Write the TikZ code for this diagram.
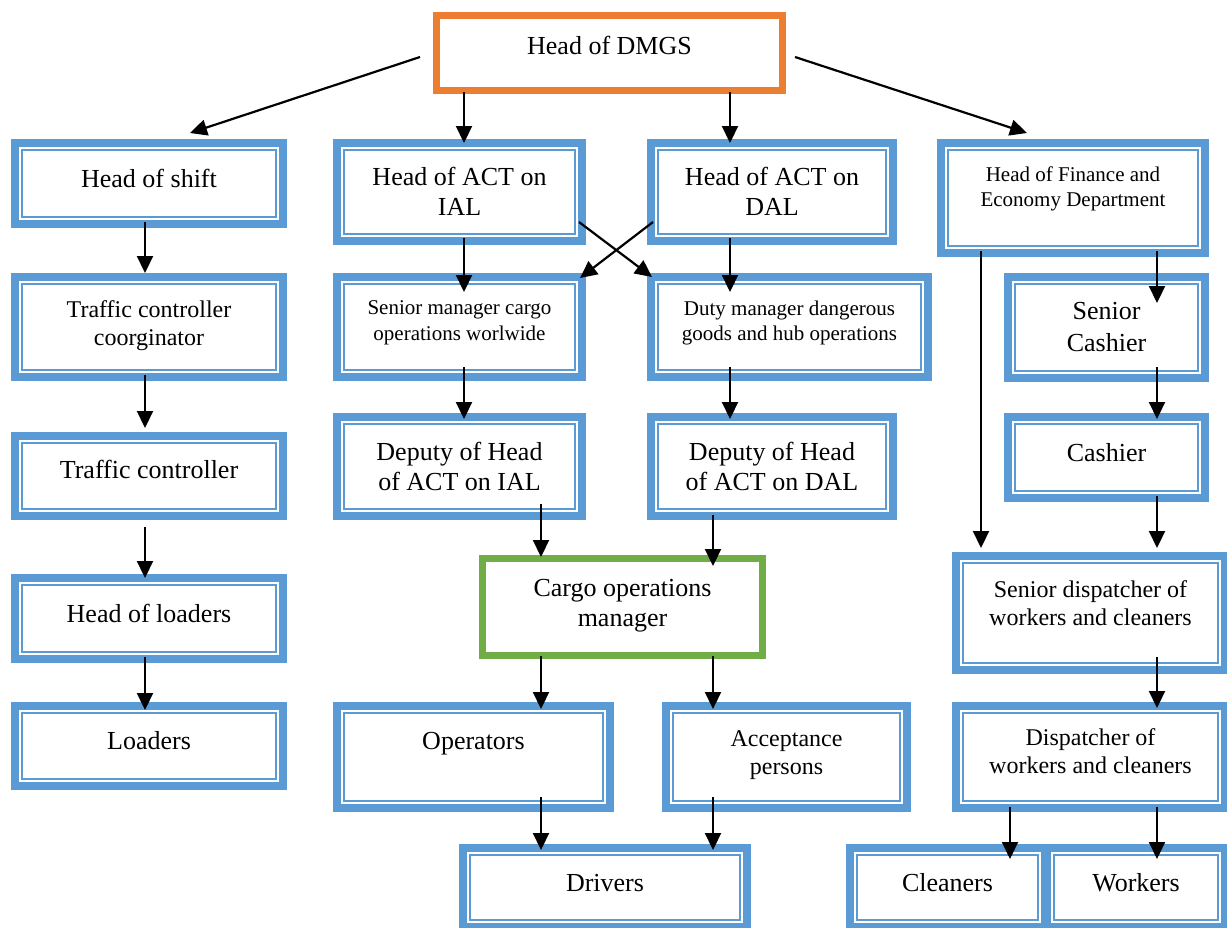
\documentclass[tikz,border=0pt]{standalone}
\usepackage{fontspec}
\setmainfont{Liberation Serif}
\usetikzlibrary{arrows.meta}
\definecolor{bluBordo}{HTML}{5B9BD5}
\definecolor{aranBordo}{HTML}{ED7D31}
\definecolor{verdeBordo}{HTML}{70AD47}

\begin{document}
\begin{tikzpicture}[x=1pt,y=-1pt,
  riquadro/.style={draw=bluBordo,line width=8pt,fill=white,outer sep=0pt,inner sep=0pt,
    anchor=north west,align=center,
    path picture={\draw[bluBordo,line width=2pt]
      ([xshift=7pt,yshift=-7pt]path picture bounding box.north west) rectangle
      ([xshift=-7pt,yshift=7pt]path picture bounding box.south east);}},
  cornice/.style={draw=#1,line width=7pt,fill=white,outer sep=0pt,inner sep=0pt,
    anchor=north west,align=center},
  grande/.style={font=\fontsize{26}{30}\selectfont},
  medio/.style={font=\fontsize{24}{28}\selectfont},
  piccolo/.style={font=\fontsize{21}{25.5}\selectfont},
  alza/.style={text depth=#1},
  freccia/.style={-{Triangle[length=17pt,width=16pt]},line width=2.2pt}]
  \useasboundingbox (0,0) rectangle (1227,927);
  % Vertice dell'organigramma.
  \node[cornice=aranBordo,grande,alza=15.7,minimum width=346,minimum height=75] (dmgs) at (436.5,15.5) {Head of DMGS};
  % Prima colonna: turno e caricatori.
  \node[riquadro,grande,alza=11.3,minimum width=268,minimum height=81] (turno) at (15,143) {Head of shift};
  \node[riquadro,medio,alza=8.3,minimum width=268,minimum height=100] (coord) at (15,277) {Traffic controller\\coorginator};
  \node[riquadro,grande,alza=13.7,minimum width=268,minimum height=80] (traffico) at (15,436) {Traffic controller};
  \node[riquadro,grande,alza=11.3,minimum width=268,minimum height=81] (capoCaric) at (15,578) {Head of loaders};
  \node[riquadro,grande,alza=11.1,minimum width=268,minimum height=80] (caricatori) at (15,706) {Loaders};
  % Colonne centrali: IAL e DAL.
  \node[riquadro,grande,alza=0.7,minimum width=245,minimum height=98] (actIAL) at (337,143) {Head of ACT on\\IAL};
  \node[riquadro,piccolo,alza=12.6,minimum width=245,minimum height=100] (smIAL) at (337,277) {Senior manager cargo\\operations worlwide};
  \node[riquadro,grande,alza=0,minimum width=245,minimum height=99] (vIAL) at (337,417) {Deputy of Head\\of ACT on IAL};
  \node[riquadro,grande,alza=0.7,minimum width=242,minimum height=98] (actDAL) at (651,143) {Head of ACT on\\DAL};
  \node[riquadro,piccolo,alza=12.6,minimum width=277,minimum height=100] (dmDAL) at (651,277) {Duty manager dangerous\\goods and hub operations};
  \node[riquadro,grande,alza=0,minimum width=242,minimum height=99] (vDAL) at (651,417) {Deputy of Head\\of ACT on DAL};
  \node[cornice=verdeBordo,grande,alza=8.3,minimum width=280,minimum height=97] (merci) at (482.5,558.5) {Cargo operations\\manager};
  \node[riquadro,grande,alza=31.7,minimum width=273,minimum height=102] (operatori) at (337,706) {Operators};
  \node[riquadro,medio,alza=8.9,minimum width=241,minimum height=102] (accett) at (666,706) {Acceptance\\persons};
  \node[riquadro,grande,alza=9.3,minimum width=284,minimum height=79] (autisti) at (463,848) {Drivers};
  % Ultima colonna: finanza e dispatcher.
  \node[riquadro,piccolo,alza=22.6,minimum width=264,minimum height=110] (finanza) at (941,143) {Head of Finance and\\Economy Department};
  \node[riquadro,font=\fontsize{26}{31.5}\selectfont,alza=1.1,minimum width=197,minimum height=101] (cassSr) at (1008,277) {Senior\\Cashier};
  \node[riquadro,grande,alza=10.7,minimum width=197,minimum height=81] (cass) at (1008,417) {Cashier};
  \node[riquadro,medio,alza=20.7,minimum width=269,minimum height=114] (dispSr) at (956,556) {Senior dispatcher of\\workers and cleaners};
  \node[riquadro,medio,alza=11.9,minimum width=269,minimum height=102] (disp) at (956,706) {Dispatcher of\\workers and cleaners};
  \node[riquadro,grande,alza=9.3,minimum width=195,minimum height=79] (pulitori) at (850,848) {Cleaners};
  \node[riquadro,grande,alza=9.3,minimum width=178,minimum height=79] (operai) at (1047,848) {Workers};
  % Frecce dal vertice.
  \draw[freccia] ([xshift=-16.5,yshift=-4]dmgs.west) -- ([xshift=41,yshift=10]turno.north);
  \draw[freccia] ([xshift=-145.5,yshift=-1.5]dmgs.south) -- ([xshift=4.5]actIAL.north);
  \draw[freccia] ([xshift=120.5,yshift=-1.5]dmgs.south) -- ([xshift=-42]actDAL.north);
  \draw[freccia] ([xshift=12.5,yshift=-4]dmgs.east) -- ([xshift=-46,yshift=10]finanza.north);
  % Prima colonna.
  \draw[freccia] ([xshift=-4,yshift=2]turno.south) -- ([xshift=-4,yshift=4]coord.north);
  \draw[freccia] ([xshift=-4,yshift=2]coord.south) -- ([xshift=-4,yshift=8]traffico.north);
  \draw[freccia] ([xshift=-4,yshift=-11]traffico.south) -- ([xshift=-4]capoCaric.north);
  \draw[freccia] ([xshift=-4,yshift=2]capoCaric.south) -- ([xshift=-4,yshift=-4]caricatori.north);
  % Colonne centrali, con l'incrocio.
  \draw[freccia] ([xshift=4.5,yshift=3]actIAL.south) -- ([xshift=4.5,yshift=-15]smIAL.north);
  \draw[freccia] ([xshift=-42,yshift=3]actDAL.south) -- ([xshift=-59.5,yshift=-15]dmDAL.north);
  \draw[freccia] ([xshift=-3,yshift=19]actIAL.south east) -- ([xshift=1]dmDAL.north west);
  \draw[freccia] ([xshift=2,yshift=19]actDAL.south west) -- ([xshift=-2,yshift=-1]smIAL.north east);
  \draw[freccia] ([xshift=4.5,yshift=10]smIAL.south) -- ([xshift=4.5,yshift=-2]vIAL.north);
  \draw[freccia] ([xshift=-59.5,yshift=10]dmDAL.south) -- ([xshift=-42,yshift=-2]vDAL.north);
  \draw[freccia] ([xshift=81.5,yshift=12]vIAL.south) -- ([xshift=-81.5,yshift=1.5]merci.north);
  \draw[freccia] ([xshift=-59,yshift=1]vDAL.south) -- ([xshift=90.5,yshift=-7.5]merci.north);
  \draw[freccia] ([xshift=-81.5,yshift=-0.5]merci.south) -- ([xshift=67.5,yshift=-3]operatori.north);
  \draw[freccia] ([xshift=90.5,yshift=-0.5]merci.south) -- ([xshift=-73.5,yshift=-3]accett.north);
  \draw[freccia] ([xshift=67.5,yshift=11]operatori.south) -- ([xshift=-64,yshift=-2]autisti.north);
  \draw[freccia] ([xshift=-73.5,yshift=11]accett.south) -- ([xshift=108,yshift=-2]autisti.north);
  % Ultima colonna.
  \draw[freccia] ([xshift=84,yshift=2]finanza.south) -- ([xshift=50.5,yshift=-26]cassSr.north);
  \draw[freccia] ([xshift=-92,yshift=2]finanza.south) -- ([xshift=-109.5,yshift=8]dispSr.north);
  \draw[freccia] ([xshift=50.5,yshift=11]cassSr.south) -- ([xshift=50.5,yshift=-2]cass.north);
  \draw[freccia] ([xshift=50.5,yshift=2]cass.south) -- ([xshift=66.5,yshift=8]dispSr.north);
  \draw[freccia] ([xshift=66.5,yshift=13]dispSr.south) -- ([xshift=66.5,yshift=-2]disp.north);
  \draw[freccia] ([xshift=-80.5,yshift=1]disp.south) -- ([xshift=62.5,yshift=-11]pulitori.north);
  \draw[freccia] ([xshift=66.5,yshift=1]disp.south) -- ([xshift=21,yshift=-11]operai.north);
\end{tikzpicture}
\end{document}
